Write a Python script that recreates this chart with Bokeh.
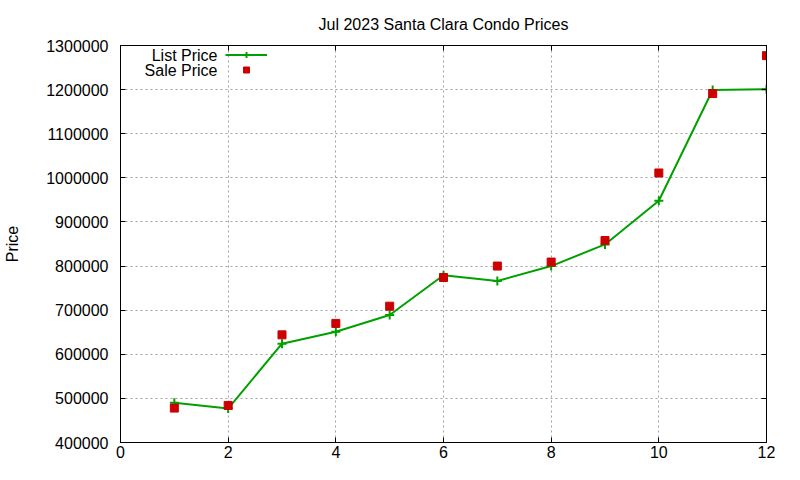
from bokeh.plotting import figure
from bokeh.models import Range1d, LinearAxis, Legend, LegendItem, FixedTicker, BasicTickFormatter, Label
from bokeh.embed import file_html
from bokeh.resources import INLINE

# data
month = [1, 2, 3, 4, 5, 6, 7, 8, 9, 10, 11, 12]
list_price = [490000, 477000, 624000, 651000, 689000, 779000,
              766000, 800000, 849000, 948000, 1199000, 1201000]
sale_price = [478000, 484000, 644000, 670000, 709000, 774000,
              800000, 809000, 858000, 1011000, 1191000, 1277000]
x_ticks = [0, 2, 4, 6, 8, 10, 12]
y_ticks = [400000, 500000, 600000, 700000, 800000, 900000,
           1000000, 1100000, 1200000, 1300000]
series_names = ["List Price", "Sale Price"]

FONT = "Liberation Sans"
GREEN = "#00a000"
RED = "#cc0000"

W, H = 784, 464
TOP, BOTTOM, LEFT, RIGHT = 44, 22, 120, 18
FRAME_H = H - TOP - BOTTOM

p = figure(
    width=W, height=H,
    x_range=Range1d(0, 12), y_range=Range1d(400000, 1300000),
    title="Jul 2023 Santa Clara Condo Prices",
    output_backend="svg", toolbar_location=None,
    min_border_left=LEFT, min_border_right=RIGHT,
    min_border_top=TOP, min_border_bottom=BOTTOM,
)
p.background_fill_color = "white"
p.border_fill_color = "white"
p.outline_line_color = "black"
p.outline_line_width = 1

p.title.align = "center"
p.title.text_font = FONT
p.title.text_font_size = "16px"
p.title.text_font_style = "normal"
p.title.text_color = "black"
p.title.standoff = 26


def style_axis(ax, ticks, labels=True):
    ax.ticker = FixedTicker(ticks=ticks)
    ax.formatter = BasicTickFormatter(use_scientific=False)
    ax.axis_line_color = "black"
    ax.major_tick_line_color = "black"
    ax.major_tick_in = 5
    ax.major_tick_out = 0
    ax.minor_tick_line_color = None
    ax.major_label_text_font = FONT
    ax.major_label_text_color = "black"
    ax.major_label_text_font_size = "16px"
    if not labels:
        ax.major_label_overrides = {t: "" for t in ticks}
        ax.major_label_standoff = 0


left = p.yaxis[0]
bottom = p.xaxis[0]
style_axis(left, y_ticks)
style_axis(bottom, x_ticks)
left.major_label_standoff = 12
bottom.major_label_standoff = 3
left.axis_label = "Price"
left.axis_label_text_font = FONT
left.axis_label_text_font_size = "16px"
left.axis_label_text_font_style = "normal"
left.axis_label_text_color = "black"
left.axis_label_standoff = 22

# mirrored ticks on the right and top, no labels
right = LinearAxis()
style_axis(right, y_ticks, labels=False)
p.add_layout(right, "right")
top = LinearAxis()
style_axis(top, x_ticks, labels=False)
p.add_layout(top, "above")

for g, t in ((p.xgrid[0], x_ticks), (p.ygrid[0], y_ticks)):
    g.ticker = FixedTicker(ticks=t)
    g.grid_line_color = "#a0a0a0"
    g.grid_line_dash = "2 3"
    g.grid_line_width = 1

ln = p.line(month, list_price, line_color=GREEN, line_width=2)
mk = p.scatter(month, list_price, marker="cross", size=9,
               line_color=GREEN, line_width=2)
sq = p.scatter(month, sale_price, marker="square", size=8,
               fill_color=RED, line_color=RED)

# gnuplot-style key: sample on the right, text right-aligned on its left
legend = Legend(
    items=[LegendItem(label="", renderers=[ln, mk]),
           LegendItem(label="", renderers=[sq])],
    location=(105, FRAME_H - 33),
    glyph_width=42, glyph_height=15, label_height=15,
    label_standoff=0, label_text_font_size="10px",
    padding=0, margin=0, spacing=0,
    border_line_color=None, background_fill_alpha=0,
)
p.add_layout(legend)
for i, name in enumerate(series_names):
    p.add_layout(Label(
        x=97, y=FRAME_H - 11 - 15 * i, x_units="screen", y_units="screen",
        text=name, text_align="right", text_baseline="middle",
        text_font=FONT, text_font_size="16px", text_color="black",
    ))

open("out.html", "w").write(file_html(p, INLINE))
